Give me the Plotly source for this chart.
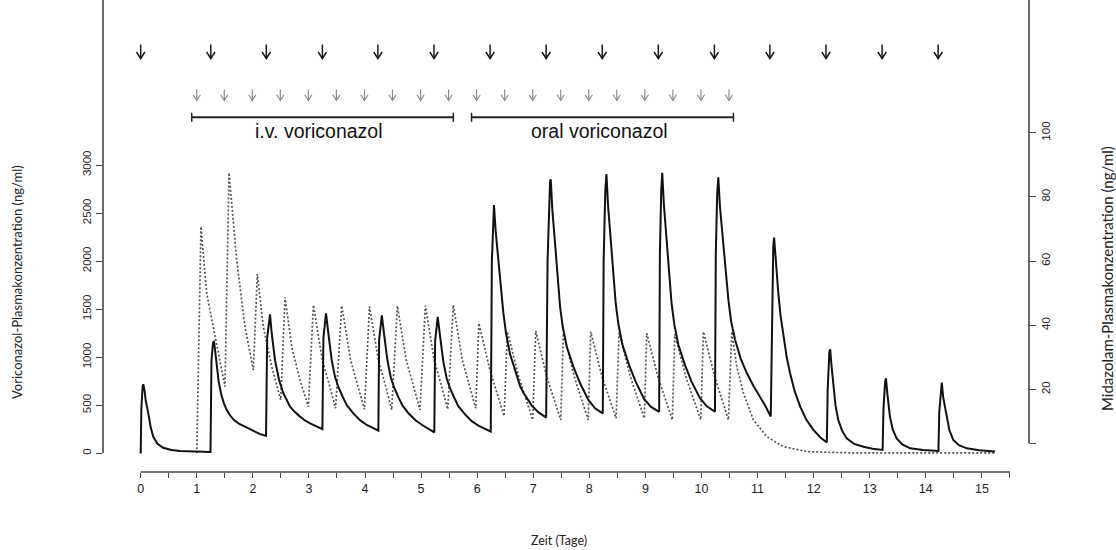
import plotly.graph_objects as go

# Midazolam (solid, right axis, ng/ml) - time in days
mid_t = [0.0, 0.012, 0.035, 0.047, 0.07, 0.09, 0.136, 0.18, 0.225, 0.30, 0.40, 0.55, 0.70, 1.0, 1.245,
         1.262, 1.29, 1.307, 1.33, 1.355, 1.39, 1.432, 1.48, 1.533, 1.59, 1.664, 1.75, 1.86, 1.95, 2.038, 2.12, 2.235,
         2.255, 2.29, 2.306, 2.336, 2.395, 2.467, 2.544, 2.663, 2.75, 2.841, 2.93, 3.02, 3.13, 3.24,
         3.258, 3.29, 3.305, 3.346, 3.406, 3.465, 3.525, 3.602, 3.674, 3.792, 3.911, 4.031, 4.148, 4.238,
         4.252, 4.285, 4.30, 4.341, 4.401, 4.46, 4.52, 4.597, 4.669, 4.787, 4.906, 5.026, 5.143, 5.236,
         5.25, 5.282, 5.297, 5.338, 5.398, 5.457, 5.517, 5.594, 5.666, 5.784, 5.903, 6.023, 6.14, 6.242,
         6.262, 6.285, 6.30, 6.329, 6.377, 6.418, 6.466, 6.514, 6.586, 6.645, 6.703, 6.765, 6.823, 6.971, 7.09, 7.23,
         7.255, 7.285, 7.30, 7.312, 7.341, 7.389, 7.43, 7.478, 7.526, 7.598, 7.715, 7.835, 7.983, 8.102, 8.24,
         8.255, 8.285, 8.297, 8.305, 8.334, 8.382, 8.423, 8.471, 8.519, 8.591, 8.708, 8.828, 8.976, 9.095, 9.245,
         9.258, 9.282, 9.293, 9.30, 9.329, 9.377, 9.418, 9.466, 9.514, 9.586, 9.703, 9.823, 9.971, 10.09, 10.24,
         10.255, 10.28, 10.292, 10.30, 10.329, 10.39, 10.43, 10.48, 10.53, 10.60, 10.70, 10.81, 10.93, 11.045, 11.14, 11.235,
         11.255, 11.28, 11.295, 11.325, 11.37, 11.41, 11.46, 11.52, 11.58, 11.66, 11.76, 11.87, 12.0, 12.12, 12.235,
         12.25, 12.28, 12.295, 12.32, 12.35, 12.39, 12.44, 12.51, 12.59, 12.72, 12.89, 13.05, 13.23,
         13.245, 13.275, 13.29, 13.315, 13.36, 13.41, 13.48, 13.58, 13.72, 13.95, 14.225,
         14.24, 14.27, 14.285, 14.31, 14.375, 14.42, 14.49, 14.59, 14.73, 14.95, 15.235]
mid_c = [0.0, 14.0, 21.0, 21.6, 19.5, 16.5, 12.5, 8.0, 5.2, 3.0, 1.8, 1.1, 0.8, 0.6, 0.5,
         29.0, 34.6, 35.1, 31.5, 27.1, 22.5, 18.8, 15.8, 13.6, 12.0, 10.4, 9.3, 8.4, 7.5, 6.8, 6.1, 5.5,
         36.0, 42.8, 43.4, 37.5, 29.1, 22.9, 18.8, 14.6, 12.9, 11.5, 10.3, 9.4, 8.5, 7.6,
         36.0, 43.2, 43.7, 37.5, 29.1, 23.9, 20.8, 17.7, 15.1, 12.5, 10.4, 8.9, 7.8, 7.1,
         35.5, 42.6, 43.1, 37.1, 28.9, 23.7, 20.5, 17.5, 14.9, 12.3, 10.3, 8.8, 7.6, 6.6,
         35.0, 42.1, 42.6, 36.6, 28.5, 23.4, 20.3, 17.3, 14.7, 12.2, 10.1, 8.7, 7.6, 6.8,
         60.0, 76.0, 77.5, 69.5, 60.5, 52.5, 44.0, 37.5, 31.0, 27.8, 24.5, 21.0, 19.0, 15.0, 12.9, 11.2,
         60.0, 80.0, 84.8, 85.5, 75.9, 65.5, 55.1, 45.8, 39.5, 33.3, 27.1, 21.9, 16.7, 14.1, 12.5,
         60.0, 82.0, 86.3, 87.1, 77.3, 66.7, 56.1, 46.7, 40.2, 33.9, 27.6, 22.3, 17.0, 14.6, 13.0,
         62.0, 82.0, 86.7, 87.5, 77.7, 67.0, 56.4, 46.9, 40.4, 34.0, 27.7, 22.4, 17.3, 14.8, 13.0,
         62.0, 81.0, 85.3, 86.1, 77.0, 65.5, 56.0, 47.8, 41.0, 35.4, 29.5, 25.0, 21.0, 17.7, 14.8, 11.5,
         45.0, 64.5, 67.3, 60.0, 49.9, 43.0, 36.4, 30.0, 25.0, 19.5, 14.6, 10.5, 7.3, 5.0, 3.4,
         20.0, 31.5, 32.5, 27.0, 20.8, 15.0, 10.4, 7.0, 4.7, 3.0, 2.1, 1.5, 1.1,
         14.0, 22.5, 23.4, 18.5, 11.5, 7.5, 4.7, 2.8, 1.6, 1.1, 0.8,
         13.0, 21.2, 22.1, 17.5, 11.0, 7.3, 4.2, 2.6, 1.6, 1.0, 0.6]

# Voriconazole (dotted, left axis, ng/ml)
vori_t = [1.0, 1.075, 1.177, 1.325, 1.503,
          1.575, 1.712, 1.86, 2.008,
          2.08, 2.187, 2.336, 2.497,
          2.574, 2.693, 2.84, 2.99,
          3.08, 3.238, 3.387, 3.475,
          3.585, 3.743, 3.892, 3.99,
          4.08, 4.238, 4.387, 4.476,
          4.577, 4.735, 4.884, 4.98,
          5.076, 5.234, 5.383, 5.475,
          5.575, 5.733, 5.882, 5.975,
          6.03, 6.23, 6.48,
          6.54, 6.74, 6.99,
          7.045, 7.24, 7.49,
          7.537, 7.735, 7.98,
          8.025, 8.225, 8.477,
          8.53, 8.73, 8.98,
          9.024, 9.224, 9.48,
          9.524, 9.724, 9.987,
          10.034, 10.234, 10.48,
          10.54, 10.63, 10.75, 10.925, 11.165, 11.46, 11.88, 12.65, 15.25]
vori_c = [0, 2358, 1665, 1213, 693,
          2920, 2011, 1317, 867,
          1866, 1317, 901, 555,
          1623, 1109, 763, 485,
          1543, 975, 662, 468,
          1536, 971, 659, 458,
          1526, 971, 659, 451,
          1533, 971, 659, 451,
          1536, 971, 659, 458,
          1543, 975, 662, 468,
          1353, 860, 388,
          1265, 800, 347,
          1273, 797, 347,
          1249, 790, 347,
          1265, 800, 364,
          1255, 800, 364,
          1249, 795, 347,
          1241, 790, 347,
          1265, 800, 347,
          1265, 901, 624, 347, 173, 69, 17, 5, 5]

# Dosing times (arrows)
mid_dose_days = [0.0, 1.25, 2.24, 3.24, 4.23, 5.23, 6.23, 7.23, 8.23, 9.23,
                 10.23, 11.22, 12.22, 13.22, 14.22]
vori_dose_days = [1.0, 1.49, 1.99, 2.49, 2.99, 3.49, 3.99, 4.49, 4.99, 5.49,
                  5.99, 6.49, 6.99, 7.49, 7.99, 8.49, 8.99, 9.49, 9.99, 10.49]

# Treatment phases
phase_labels = ["i.v. voriconazol", "oral voriconazol"]
phase_start = [0.91, 5.90]
phase_end = [5.575, 10.57]

x_ticks = [0, 1, 2, 3, 4, 5, 6, 7, 8, 9, 10, 11, 12, 13, 14, 15]
x_minor = [0.5, 1.5, 2.5, 3.5, 4.5, 5.5, 6.5, 7.5, 8.5, 9.5, 10.5, 11.5, 12.5, 13.5, 14.5, 15.5]
left_ticks = [0, 500, 1000, 1500, 2000, 2500, 3000]
right_ticks = [3.1, 20, 40, 60, 80, 100]
right_ticktext = ["", "20", "40", "60", "80", "100"]

W, H = 1116, 550
ML, MR, MT, MB = 103, 87, 0, 78
PH = H - MT - MB
XUNIT = 56.07  # px per day

def py_to_paper(py):
    return (H - MB - py) / PH

def px_to_paper(px):
    return (px - ML) / (W - ML - MR)

AX = "#444444"

fig = go.Figure()
fig.add_trace(go.Scatter(x=vori_t, y=vori_c, mode="lines", yaxis="y",
                         line=dict(color="#555555", width=1.7, dash="2px,2px"),
                         showlegend=False, hoverinfo="skip"))
fig.add_trace(go.Scatter(x=mid_t, y=mid_c, mode="lines", yaxis="y2",
                         line=dict(color="#111111", width=2.0),
                         showlegend=False, hoverinfo="skip"))

xt_vals = sorted(x_ticks + x_minor)
xt_text = [str(int(v)) if v in x_ticks else "" for v in xt_vals]

fig.update_layout(
    width=W, height=H,
    margin=dict(l=ML, r=MR, t=MT, b=MB, autoexpand=False),
    paper_bgcolor="white", plot_bgcolor="white",
    xaxis=dict(range=[-0.672, 15.84], showgrid=False, zeroline=False, showline=False,
               tickmode="array", tickvals=xt_vals, ticktext=xt_text,
               ticks="outside", ticklen=5, tickwidth=1.2, tickcolor=AX, automargin=False,
               tickfont=dict(family="Liberation Sans, Arial", size=12.5, color="#222")),
    yaxis=dict(range=[-194.6, 4717], showgrid=False, zeroline=False, showline=False,
               tickmode="array", tickvals=left_ticks, ticks="outside", ticklen=6,
               tickwidth=1.2, tickcolor=AX, tickangle=-90, automargin=False,
               tickfont=dict(family="Liberation Sans, Arial", size=11.5, color="#222")),
    yaxis2=dict(range=[-5.77, 141.4], overlaying="y", side="right", showgrid=False,
                zeroline=False, showline=False, tickmode="array", tickvals=right_ticks,
                ticktext=right_ticktext, ticks="outside", ticklen=6, tickwidth=1.2,
                tickcolor=AX, tickangle=-90, automargin=False,
                tickfont=dict(family="Liberation Sans, Arial", size=11.5, color="#222")),
)

shapes = []
# axis lines
shapes.append(dict(type="line", xref="paper", yref="y", x0=0, x1=0, y0=0, y1=4717,
                   line=dict(color=AX, width=1.6)))
shapes.append(dict(type="line", xref="paper", yref="y2", x0=1, x1=1, y0=3.1, y1=141.4,
                   line=dict(color=AX, width=1.6)))
shapes.append(dict(type="line", xref="x", yref="paper", x0=0, x1=15.5, y0=0, y1=0,
                   line=dict(color=AX, width=1.4)))
# phase brackets
yb = py_to_paper(117.3)
cap = 4.5 / PH
for s, e in zip(phase_start, phase_end):
    shapes.append(dict(type="line", xref="x", yref="paper", x0=s, x1=e, y0=yb, y1=yb,
                       line=dict(color="#222", width=2)))
    for xx in (s, e):
        shapes.append(dict(type="line", xref="x", yref="paper", x0=xx, x1=xx,
                           y0=yb - cap, y1=yb + cap, line=dict(color="#222", width=1.5)))

# dosing arrows drawn as stem + open head
def arrow(xd, top, tip, head, half_px, color, width):
    dx = half_px / XUNIT
    out = [dict(type="line", xref="x", yref="paper", x0=xd, x1=xd,
                y0=py_to_paper(top), y1=py_to_paper(tip),
                line=dict(color=color, width=width))]
    path = "M {a},{b} L {c},{d} L {e},{f}".format(
        a=xd - dx, b=py_to_paper(head), c=xd, d=py_to_paper(tip),
        e=xd + dx, f=py_to_paper(head))
    out.append(dict(type="path", xref="x", yref="paper", path=path,
                    line=dict(color=color, width=width)))
    return out

for d in mid_dose_days:
    shapes += arrow(d, 44.5, 58.5, 52.0, 4.2, "#1a1a1a", 1.5)
for d in vori_dose_days:
    shapes += arrow(d, 89.5, 100.5, 94.8, 3.6, "#8a8a8a", 1.2)
fig.update_layout(shapes=shapes)

ann = []
for lab, s, e in zip(phase_labels, phase_start, phase_end):
    ann.append(dict(x=(s + e) / 2 - 0.06, y=py_to_paper(131), xref="x", yref="paper", text=lab,
                    showarrow=False, font=dict(family="Liberation Sans, Arial", size=19.5, color="#111"),
                    xanchor="center", yanchor="middle"))
# axis titles
ann.append(dict(x=px_to_paper(17), y=py_to_paper(282), xref="paper", yref="paper",
                text="Voriconazol-Plasmakonzentration (ng/ml)", textangle=-90, showarrow=False,
                font=dict(family="Lato, Open Sans", size=13, color="#222"),
                xanchor="center", yanchor="middle"))
ann.append(dict(x=px_to_paper(1107), y=py_to_paper(279), xref="paper", yref="paper",
                text="Midazolam-Plasmakonzentration (ng/ml)", textangle=-90, showarrow=False,
                font=dict(family="Lato, Open Sans", size=15, color="#222"),
                xanchor="center", yanchor="middle"))
ann.append(dict(x=px_to_paper(559), y=py_to_paper(540), xref="paper", yref="paper",
                text="Zeit (Tage)", showarrow=False,
                font=dict(family="Lato, Open Sans", size=12.5, color="#222"),
                xanchor="center", yanchor="middle"))
fig.update_layout(annotations=ann)

fig.write_html("out.html")
